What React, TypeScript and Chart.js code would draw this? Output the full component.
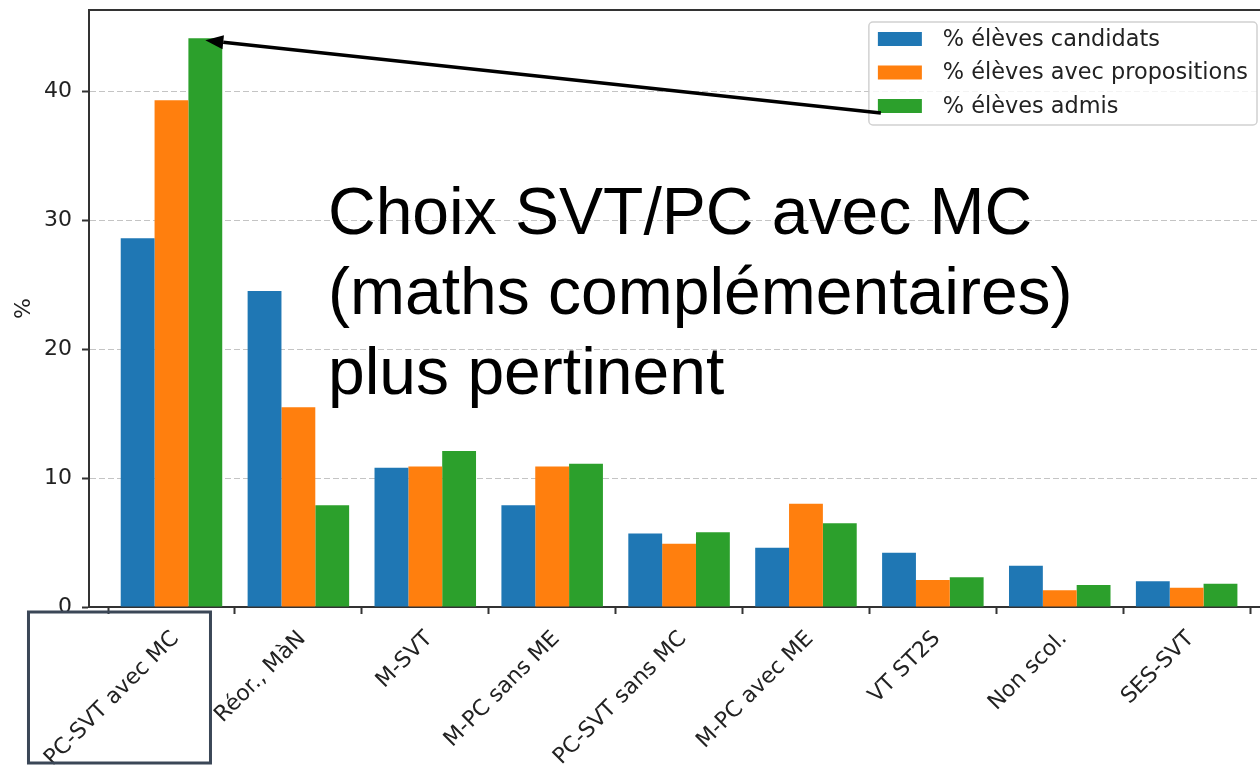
import React, { useEffect, useRef } from 'react';
import { Chart, registerables } from 'chart.js';

Chart.register(...registerables);

// ---- Data ----
const categories = [
  'PC-SVT avec MC',
  'Réor., MàN',
  'M-SVT',
  'M-PC sans ME',
  'PC-SVT sans MC',
  'M-PC avec ME',
  'VT ST2S',
  'Non scol.',
  'SES-SVT',
];
const candidats = [28.6, 24.5, 10.8, 7.9, 5.7, 4.6, 4.2, 3.2, 2.0];
const propositions = [39.3, 15.5, 10.9, 10.9, 4.9, 8.0, 2.1, 1.3, 1.5];
const admis = [44.1, 7.9, 12.1, 11.1, 5.8, 6.5, 2.3, 1.7, 1.8];
const seriesLabels = ['% élèves candidats', '% élèves avec propositions', '% élèves admis'];
const seriesColors = ['#1f77b4', '#ff7f0e', '#2ca02c'];
const yTicks = [0, 10, 20, 30, 40];
const yAxisTitle = '%';
const annotationLines = ['Choix SVT/PC avec MC', '(maths complémentaires)', 'plus pertinent'];

const FONT = '"DejaVu Sans", Verdana, sans-serif';
const FONT_SIZE = 22;
const LEGEND_FONT_SIZE = 22.4;
const TEXT_COLOR = '#222222';
const SPINE = '#333333';

const decorPlugin = {
  id: 'decor',
  afterDraw(chart: any) {
    const ctx = chart.ctx as CanvasRenderingContext2D;
    const { left, right, top, bottom } = chart.chartArea;
    ctx.save();

    // top spine
    ctx.strokeStyle = SPINE;
    ctx.lineWidth = 2;
    ctx.beginPath();
    ctx.moveTo(left - 1, top);
    ctx.lineTo(right, top);
    ctx.stroke();

    // legend (from datasets)
    const ds = chart.data.datasets;
    ctx.font = `${LEGEND_FONT_SIZE}px ${FONT}`;
    let maxW = 0;
    ds.forEach((d: any) => {
      maxW = Math.max(maxW, ctx.measureText(d.label).width);
    });
    const padL = 9, patchW = 44, patchH = 14, gap = 21, padR = 9;
    const rowStep = 33.5, firstRow = 17, lastPad = 19;
    const frameW = padL + patchW + gap + maxW + padR;
    const frameH = firstRow + (ds.length - 1) * rowStep + lastPad;
    const frameRight = chart.width - 3;
    const frameX = frameRight - frameW;
    const frameY = top + 12;
    ctx.fillStyle = 'rgba(255,255,255,0.8)';
    ctx.strokeStyle = 'rgba(204,204,204,0.9)';
    ctx.lineWidth = 1.5;
    ctx.beginPath();
    (ctx as any).roundRect(frameX, frameY, frameW, frameH, 4);
    ctx.fill();
    ctx.stroke();
    const rowY: number[] = [];
    ds.forEach((d: any, i: number) => {
      const cy = frameY + firstRow + i * rowStep;
      rowY.push(cy);
      ctx.fillStyle = d.backgroundColor;
      ctx.fillRect(frameX + padL, cy - patchH / 2, patchW, patchH);
      ctx.fillStyle = TEXT_COLOR;
      ctx.textAlign = 'left';
      ctx.textBaseline = 'middle';
      ctx.fillText(d.label, frameX + padL + patchW + gap, cy + 1);
    });

    // arrow from legend "admis" patch to top of first "admis" bar
    const el = chart.getDatasetMeta(2).data[0];
    const tipX = el.x;
    const tipY = el.y + 2;
    const tailX = frameX + padL + 3;
    const tailY = rowY[2] + 7;
    const ang = Math.atan2(tipY - tailY, tipX - tailX);
    const headL = 18, headW = 7;
    const baseX = tipX - headL * Math.cos(ang);
    const baseY = tipY - headL * Math.sin(ang);
    ctx.strokeStyle = '#000';
    ctx.lineWidth = 3.5;
    ctx.beginPath();
    ctx.moveTo(tailX, tailY);
    ctx.lineTo(baseX, baseY);
    ctx.stroke();
    ctx.fillStyle = '#000';
    ctx.beginPath();
    ctx.moveTo(tipX, tipY);
    ctx.lineTo(baseX + headW * Math.sin(ang), baseY - headW * Math.cos(ang));
    ctx.lineTo(baseX - headW * Math.sin(ang), baseY + headW * Math.cos(ang));
    ctx.closePath();
    ctx.fill();

    // big annotation text
    ctx.fillStyle = '#000';
    ctx.font = '66px "Liberation Sans", Arial, sans-serif';
    ctx.textAlign = 'left';
    ctx.textBaseline = 'alphabetic';
    annotationLines.forEach((t, i) => {
      ctx.fillText(t, 328, 234 + i * 80);
    });

    // box around first category label
    const xs = chart.scales.x;
    const t0 = xs.getPixelForValue(0);
    ctx.strokeStyle = '#3b4757';
    ctx.lineWidth = 3;
    ctx.strokeRect(t0 - 143, bottom + 5, 182, 151);

    ctx.restore();
  },
};

export default function App() {
  const ref = useRef<HTMLCanvasElement>(null);
  useEffect(() => {
    const series = [candidats, propositions, admis];
    const chart = new Chart(ref.current as HTMLCanvasElement, {
      type: 'bar',
      data: {
        datasets: series.map((vals, s) => ({
          label: seriesLabels[s],
          data: vals.map((v, i) => ({ x: i, y: v })),
          backgroundColor: seriesColors[s],
          borderWidth: 0,
          categoryPercentage: 0.8,
          barPercentage: 1.0,
        })),
      },
      options: {
        animation: false,
        responsive: false,
        maintainAspectRatio: false,
        devicePixelRatio: 1,
        layout: { padding: { top: 10, left: 0, right: 0, bottom: 0 } },
        plugins: {
          legend: { display: false },
          tooltip: { enabled: false },
        },
        scales: {
          x: {
            type: 'linear',
            min: -0.65,
            max: 8.578,
            offset: false,
            afterBuildTicks: (s: any) => {
              s.ticks = categories.map((_, i) => ({ value: i }));
            },
            afterFit: (s: any) => {
              s.height = 167;
              s.paddingLeft = 0;
              s.paddingRight = 0;
            },
            ticks: {
              autoSkip: false,
              maxRotation: 45,
              minRotation: 45,
              padding: 12,
              labelOffset: 4,
              font: { family: FONT, size: FONT_SIZE },
              color: TEXT_COLOR,
              callback: (v: any) => categories[v as number] ?? '',
            },
            grid: {
              drawOnChartArea: false,
              drawTicks: true,
              tickLength: 7,
              tickColor: SPINE,
              tickWidth: 2,
              color: 'transparent',
            },
            border: { display: true, color: SPINE, width: 2 },
          },
          y: {
            type: 'linear',
            min: 0,
            max: 46.3,
            afterBuildTicks: (s: any) => {
              s.ticks = yTicks.map((v) => ({ value: v }));
            },
            afterFit: (s: any) => {
              s.width = 89;
              s.paddingTop = 0;
              s.paddingBottom = 0;
            },
            ticks: {
              padding: 10,
              font: { family: FONT, size: FONT_SIZE },
              color: TEXT_COLOR,
            },
            title: {
              display: true,
              text: yAxisTitle,
              font: { family: FONT, size: FONT_SIZE },
              color: TEXT_COLOR,
              padding: { top: 11, bottom: 0 },
            },
            grid: {
              color: (c: any) => (c.tick && c.tick.value === 0 ? 'transparent' : 'rgba(176,176,176,0.75)'),
              lineWidth: 1,
              drawTicks: true,
              tickLength: 7,
              tickColor: SPINE,
              tickWidth: 2,
              tickBorderDash: [],
            },
            border: { display: true, color: SPINE, width: 2, dash: [6, 3] },
          },
        },
      } as any,
      plugins: [decorPlugin],
    });
    return () => chart.destroy();
  }, []);
  return (
    <div style={{ position: 'fixed', left: 0, top: 0, width: 1260, height: 774, background: '#fff' }}>
      <canvas ref={ref} width={1260} height={774} style={{ display: 'block' }} />
    </div>
  );
}
